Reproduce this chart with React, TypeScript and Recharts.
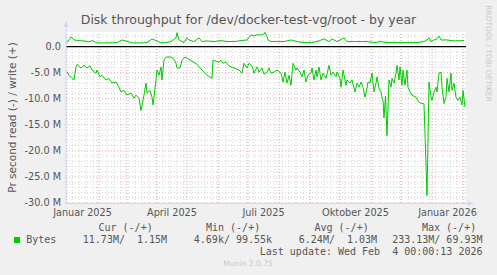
import React from 'react';
import { LineChart, Line, XAxis, YAxis, ReferenceLine, ReferenceArea } from 'recharts';

// day index: 0 = 31 Dec 2024, 400 = 4 Feb 2026
const readDays = [
  1, 3, 6, 8, 10, 11, 15, 18, 21, 24,
  26, 30, 31, 34, 36, 40, 43, 46, 50, 53,
  55, 58, 61, 65, 68, 70, 73, 75, 78, 80,
  81, 84, 86, 87, 90, 91, 93, 95, 96, 98,
  100, 105, 108, 110, 111, 114, 116, 119, 121, 126,
  131, 136, 141, 146, 147, 150, 153, 155, 157, 160,
  163, 168, 173, 176, 178, 181, 183, 186, 188, 191,
  193, 196, 198, 201, 203, 205, 208, 211, 215, 217,
  219, 221, 223, 225, 227, 230, 231, 234, 236, 238,
  240, 242, 245, 246, 248, 250, 251, 253, 255, 257,
  260, 263, 265, 267, 270, 271, 274, 275, 277, 280,
  281, 284, 286, 289, 291, 293, 295, 297, 299, 301,
  302, 304, 306, 308, 310, 311, 313, 315, 316, 317,
  318, 319.5, 321, 323, 325, 326, 328, 330, 331, 333,
  334, 336, 337, 339, 341, 342, 344, 346, 350, 353,
  356, 358, 361, 363, 365, 366, 368, 370, 371, 373,
  375, 376, 378, 380, 381, 383, 385, 386, 388, 390,
  392, 394, 396, 397, 399,
];
const readValues = [
  -4.8, -5.5, -6.1, -6.4, -3.9, -3.4, -4.1, -3.6, -4.1, -3.7,
  -4.5, -5.1, -4.5, -5.8, -5.5, -6.4, -6.1, -7.0, -6.8, -7.8,
  -8.7, -8.4, -9.3, -8.9, -9.9, -9.3, -9.9, -12.3, -9.3, -7.0,
  -8.9, -8.4, -9.7, -11.2, -6.4, -4.5, -5.5, -3.9, -6.4, -2.6,
  -2.0, -2.0, -2.4, -3.2, -4.1, -4.1, -2.6, -2.0, -2.2, -2.8,
  -3.4, -4.5, -5.5, -6.1, -2.6, -2.8, -3.0, -2.6, -3.2, -3.0,
  -3.7, -4.1, -4.5, -5.1, -3.2, -4.1, -3.2, -3.7, -5.1, -3.9,
  -4.9, -4.1, -5.3, -4.9, -4.1, -5.1, -4.9, -4.5, -5.1, -6.8,
  -4.9, -7.0, -5.5, -7.4, -3.2, -4.5, -4.1, -4.9, -5.8, -4.5,
  -6.8, -5.5, -5.1, -4.1, -6.4, -4.5, -5.8, -3.9, -6.4, -5.1,
  -6.1, -3.6, -5.5, -4.9, -5.8, -4.9, -6.1, -7.8, -4.5, -7.4,
  -6.4, -7.0, -6.4, -8.7, -7.0, -7.8, -6.8, -7.8, -9.7, -8.0,
  -6.8, -7.0, -5.1, -8.7, -7.0, -5.8, -8.0, -8.7, -9.7, -10.3,
  -13.7, -9.5, -17.1, -6.4, -7.8, -6.1, -7.0, -5.1, -3.6, -6.4,
  -3.9, -7.4, -4.5, -7.4, -4.5, -7.8, -8.7, -9.3, -9.7, -10.7,
  -10.9, -11.0, -28.6, -6.8, -9.7, -10.3, -8.7, -7.8, -8.7, -5.1,
  -4.9, -7.8, -10.9, -9.7, -6.1, -8.7, -5.1, -8.4, -7.0, -9.7,
  -10.3, -9.7, -11.2, -8.4, -11.6,
];

const writeDays = [
  1, 3, 5, 8, 13, 18, 23, 26, 31, 41,
  51, 56, 61, 66, 75, 81, 86, 90, 95, 100,
  105, 110, 111, 113, 118, 121, 123, 128, 133, 136,
  141, 148, 155, 161, 168, 175, 181, 185, 188, 191,
  196, 198, 199, 201, 202, 205, 211, 218, 225, 231,
  238, 245, 251, 258, 263, 266, 271, 278, 281, 288,
  295, 301, 308, 315, 321, 331, 341, 351, 358, 361,
  363, 365, 368, 371, 373, 375, 381, 388, 398,
];
const writeValues = [
  0.77, 1.28, 1.86, 1.28, 1.15, 1.09, 0.9, 1.15, 0.71, 0.71,
  0.77, 1.28, 1.0, 0.71, 0.71, 0.77, 1.47, 1.15, 0.71, 0.77,
  0.96, 1.67, 2.68, 1.28, 0.77, 1.67, 1.28, 0.96, 1.67, 0.96,
  1.09, 0.96, 1.15, 0.96, 0.96, 1.15, 1.28, 2.24, 2.05, 2.24,
  2.24, 2.4, 2.75, 1.9, 1.28, 0.96, 0.96, 0.96, 1.28, 0.96,
  0.77, 0.77, 0.96, 1.47, 0.96, 1.47, 0.96, 1.67, 0.96, 0.96,
  0.96, 0.96, 0.77, 0.96, 0.77, 0.77, 0.77, 0.77, 0.96, 1.28,
  1.67, 0.96, 1.28, 1.47, 2.05, 1.28, 1.28, 1.09, 1.15,
];

const monthStartDays = [1, 32, 60, 91, 121, 152, 182, 213, 244, 274, 305, 335, 366, 397];
const weekDays: number[] = [];
for (let d = 6; d < 400; d += 7) weekDays.push(d);
const quarterLabelDays = [16.5, 106, 197.5, 289.5, 381.5];
const quarterLabels = ['Januar 2025', 'April 2025', 'Juli 2025', 'Oktober 2025', 'Januar 2026'];
const yMajorTicks = [0, -5, -10, -15, -20, -25, -30];
const yMinorTicks: number[] = [];
for (let v = 2; v >= -29; v--) if (v % 5 !== 0) yMinorTicks.push(v);

const legendHeaders = ['Cur (-/+)', 'Min (-/+)', 'Avg (-/+)', 'Max (-/+)'];
const legendValues = ['11.73M/  1.15M', '4.69k/ 99.55k', '6.24M/  1.03M', '233.13M/ 69.93M'];
const headerX = [98.5, 206, 314.5, 422];
const valueX = [82.8, 193.8, 298.8, 392.2];

const readPoints = readDays.map((d, i) => ({ d, v: readValues[i] }));
const writePoints = writeDays.map((d, i) => ({ d, v: writeValues[i] }));

const SANS = 'DejaVu Sans, sans-serif';
const MONO = 'DejaVu Sans Mono, monospace';
const TXT = '#555555';

const XTick = (props: any) => {
  const { x, payload } = props;
  const idx = quarterLabelDays.indexOf(payload.value);
  return (
    <text x={x} y={216} textAnchor="middle" fontFamily={SANS} fontSize={9.7} fill={TXT}>
      {quarterLabels[idx]}
    </text>
  );
};

const YTick = (props: any) => {
  const { y, payload } = props;
  const v = payload.value;
  const label = v === 0 ? '0.0' : `${v.toFixed(1)} M`;
  return (
    <text x={61} y={y} dy={3.4} textAnchor="end" fontFamily={SANS} fontSize={9.7} fill={TXT}>
      {label}
    </text>
  );
};

export default function App() {
  return (
    <div style={{ position: 'absolute', left: 0, top: 0, width: 497, height: 275, background: '#F0F0F0' }}>
      <LineChart
        width={497}
        height={275}
        margin={{ top: 32, right: 31, bottom: 52, left: 10 }}
      >
        <XAxis
          type="number"
          dataKey="d"
          domain={[0, 400]}
          ticks={quarterLabelDays}
          interval={0}
          tick={<XTick />}
          tickLine={false}
          axisLine={false}
          height={20}
          allowDataOverflow
        />
        <YAxis
          type="number"
          dataKey="v"
          domain={[-30, 2.8]}
          ticks={yMajorTicks}
          interval={0}
          tick={<YTick />}
          tickLine={false}
          axisLine={false}
          width={56}
          allowDataOverflow
        />
        <ReferenceArea x1={0} x2={400} y1={-30} y2={2.8} fill="#FFFFFF" fillOpacity={1} stroke="none" />
        {yMinorTicks.map((v) => (
          <ReferenceLine key={'hm' + v} y={v} stroke="#D2D2D2" strokeDasharray="1 2" />
        ))}
        {weekDays.map((d) => (
          <ReferenceLine key={'vm' + d} x={d} stroke="#D2D2D2" strokeDasharray="1 2" />
        ))}
        {yMajorTicks.map((v) => (
          <ReferenceLine key={'hM' + v} y={v} stroke="#E6A8A8" strokeDasharray="1 2" />
        ))}
        {monthStartDays.map((d) => (
          <ReferenceLine key={'vM' + d} x={d} stroke="#E6A8A8" strokeDasharray="1 2" />
        ))}
        <ReferenceLine y={0} stroke="#000000" strokeWidth={1.3} />
        <Line data={readPoints} dataKey="v" type="linear" stroke="#00CC00" strokeWidth={1} dot={false} isAnimationActive={false} />
        <Line data={writePoints} dataKey="v" type="linear" stroke="#00CC00" strokeWidth={1} dot={false} isAnimationActive={false} />
      </LineChart>
      <svg width={497} height={275} style={{ position: 'absolute', left: 0, top: 0, pointerEvents: 'none' }}>
        <text x={248.5} y={23.5} textAnchor="middle" fontFamily={SANS} fontSize={12.5} fill={TXT}>
          Disk throughput for /dev/docker-test-vg/root - by year
        </text>
        <text
          transform="translate(11.5,117.5) rotate(-90)"
          textAnchor="middle"
          dominantBaseline="central"
          fontFamily={SANS}
          fontSize={10.5}
          fill={TXT}
        >
          Pr second read (-) / write (+)
        </text>
        <text
          transform="translate(488,53.5) rotate(90)"
          textAnchor="middle"
          dominantBaseline="central"
          fontFamily={SANS}
          fontSize={7.5}
          fill="#C8C8C8"
        >
          RRDTOOL / TOBI OETIKER
        </text>
        <line x1={66} y1={203.5} x2={66} y2={26} stroke="#CFD6F8" strokeWidth={1} />
        <polygon points="63.5,27 68.5,27 66,21" fill="#CFD6F8" />
        <line x1={66} y1={203.5} x2={469} y2={203.5} stroke="#CFD6F8" strokeWidth={1} />
        <polygon points="468,201 468,206 474,203.5" fill="#CFD6F8" />
        {legendHeaders.map((h, i) => (
          <text key={h} x={headerX[i]} y={230.8} fontFamily={MONO} fontSize={10} fill={TXT} style={{ whiteSpace: 'pre' }} xmlSpace="preserve">
            {h}
          </text>
        ))}
        <rect x={14} y={237} width={6} height={6} fill="#00CC00" />
        <text x={26.2} y={243.2} fontFamily={MONO} fontSize={10} fill={TXT}>Bytes</text>
        {legendValues.map((v, i) => (
          <text key={v} x={valueX[i]} y={243.2} fontFamily={MONO} fontSize={10} fill={TXT} style={{ whiteSpace: 'pre' }} xmlSpace="preserve">
            {v}
          </text>
        ))}
        <text x={482.5} y={255.2} textAnchor="end" fontFamily={MONO} fontSize={10} fill={TXT} style={{ whiteSpace: 'pre' }} xmlSpace="preserve">
          {'Last update: Wed Feb  4 00:00:13 2026'}
        </text>
        <text x={248} y={265.7} textAnchor="middle" fontFamily={SANS} fontSize={7.6} fill="#C8C8C8">
          Munin 2.0.75
        </text>
      </svg>
    </div>
  );
}
